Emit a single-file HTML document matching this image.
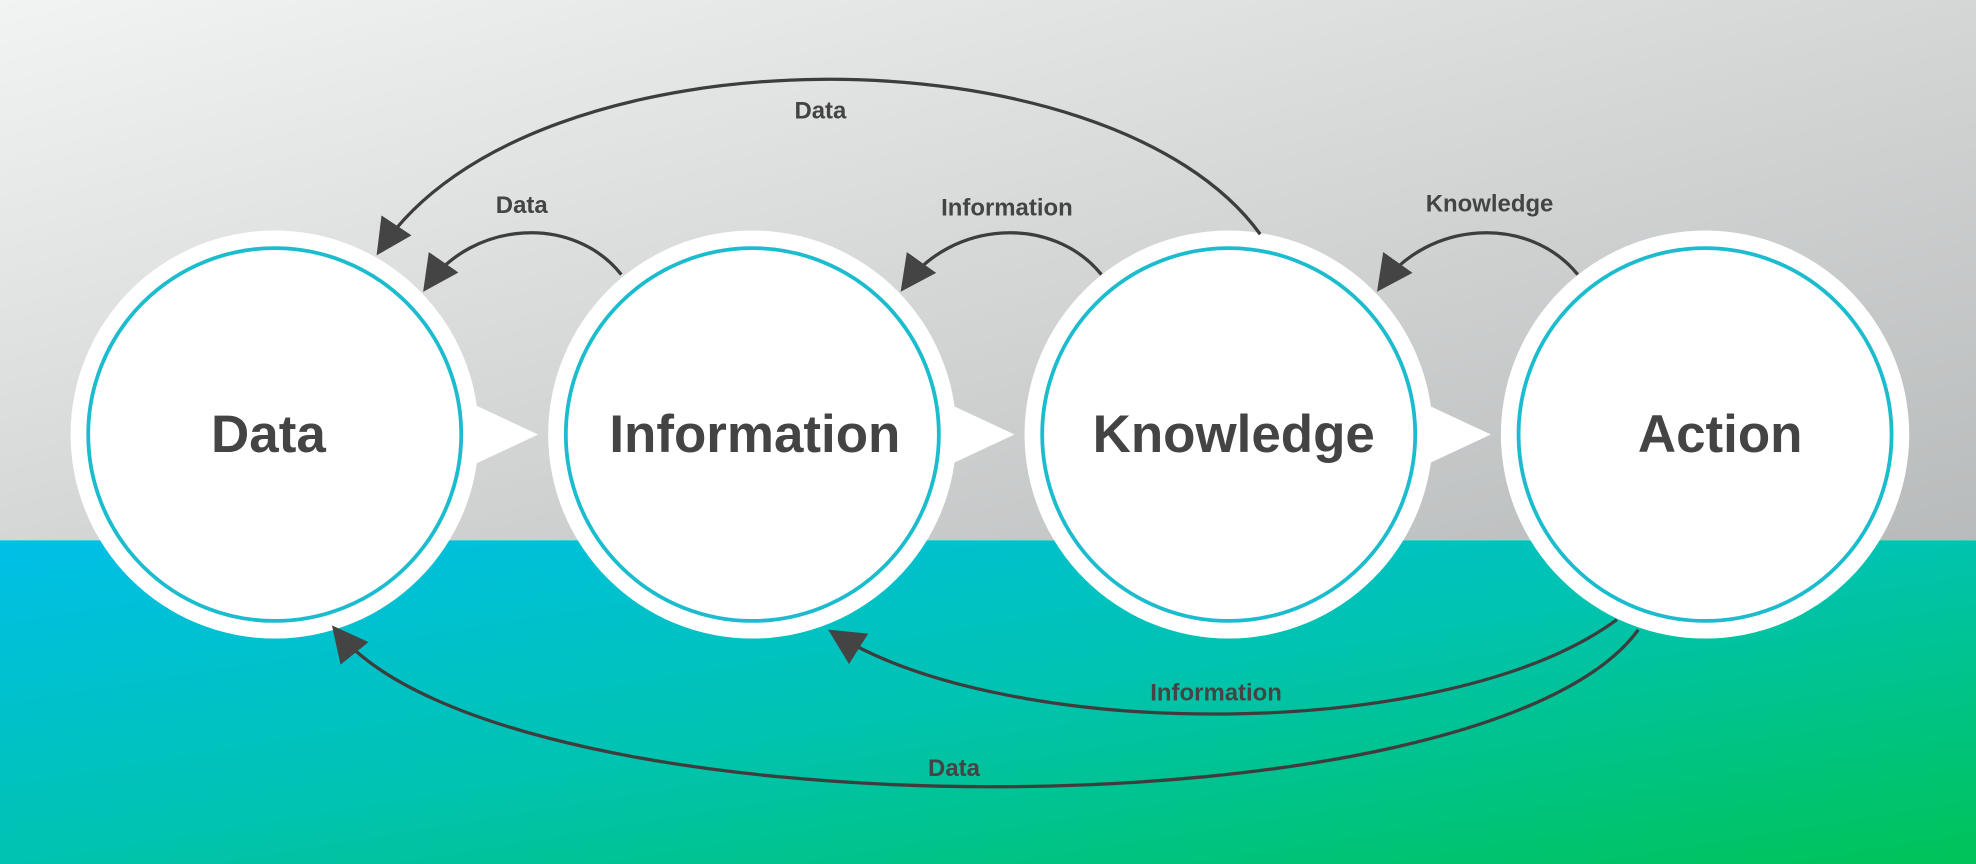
<!DOCTYPE html>
<html><head><meta charset="utf-8"><style>
html,body{margin:0;padding:0;width:1976px;height:864px;overflow:hidden}
svg{display:block}
text{font-family:"Liberation Sans",sans-serif;font-weight:bold;fill:#444;text-anchor:middle}
</style></head><body>
<svg width="1976" height="864" viewBox="0 0 1568 686" preserveAspectRatio="none">
<defs>
<linearGradient id="top" x1="0" y1="0" x2="1" y2="1">
<stop offset="0" stop-color="#f2f3f3"/><stop offset="1" stop-color="#b8bbbb"/></linearGradient>
<linearGradient id="bot" x1="0" y1="0" x2="1" y2="1">
<stop offset="0" stop-color="#00bfe8"/><stop offset="0.5" stop-color="#00c3b0"/><stop offset="1" stop-color="#00c358"/></linearGradient>
<marker id="a" viewBox="0 0 10 10" refX="8" refY="5" markerWidth="11" markerHeight="11" orient="auto"><path d="M0,0 L10,5 L0,10 z" fill="#444"/></marker>
</defs>
<rect x="0" y="0" width="1568" height="429" fill="url(#top)"/>
<rect x="0" y="429" width="1568" height="257" fill="url(#bot)"/>
<g fill="#fff">
<path d="M365,316 L427,345 L365,374 z"/>
<path d="M743,316 L805,345 L743,374 z"/>
<path d="M1121,316 L1183,345 L1121,374 z"/>
<circle cx="218" cy="345" r="162"/>
<circle cx="597" cy="345" r="162"/>
<circle cx="975" cy="345" r="162"/>
<circle cx="1353" cy="345" r="162"/>
</g>
<g fill="none" stroke="#1bbccd" stroke-width="3">
<circle cx="218" cy="345" r="148"/>
<circle cx="597" cy="345" r="148"/>
<circle cx="975" cy="345" r="148"/>
<circle cx="1353" cy="345" r="148"/>
</g>
<g font-size="42">
<text x="213" y="359">Data</text>
<text x="599" y="359">Information</text>
<text x="979" y="359">Knowledge</text>
<text x="1365" y="359">Action</text>
</g>
<g fill="none" stroke="#3d3d3d" stroke-width="2.6" marker-end="url(#a)">
<path d="M1000,186 C880,20 420,20 302,198"/>
<path d="M493,218 C455,170 375,175 339,227"/>
<path d="M874,218 C835,170 755,175 718,227"/>
<path d="M1252,218 C1213,170 1133,175 1096,227"/>
<path d="M1283,492 C1150,590 800,590 662,503"/>
<path d="M1300,500 C1180,666 400,666 267,501"/>
</g>
<g font-size="19">
<text x="651" y="94">Data</text>
<text x="414" y="169">Data</text>
<text x="799" y="171">Information</text>
<text x="1182" y="168">Knowledge</text>
<text x="965" y="556">Information</text>
<text x="757" y="616">Data</text>
</g>
</svg>
</body></html>
